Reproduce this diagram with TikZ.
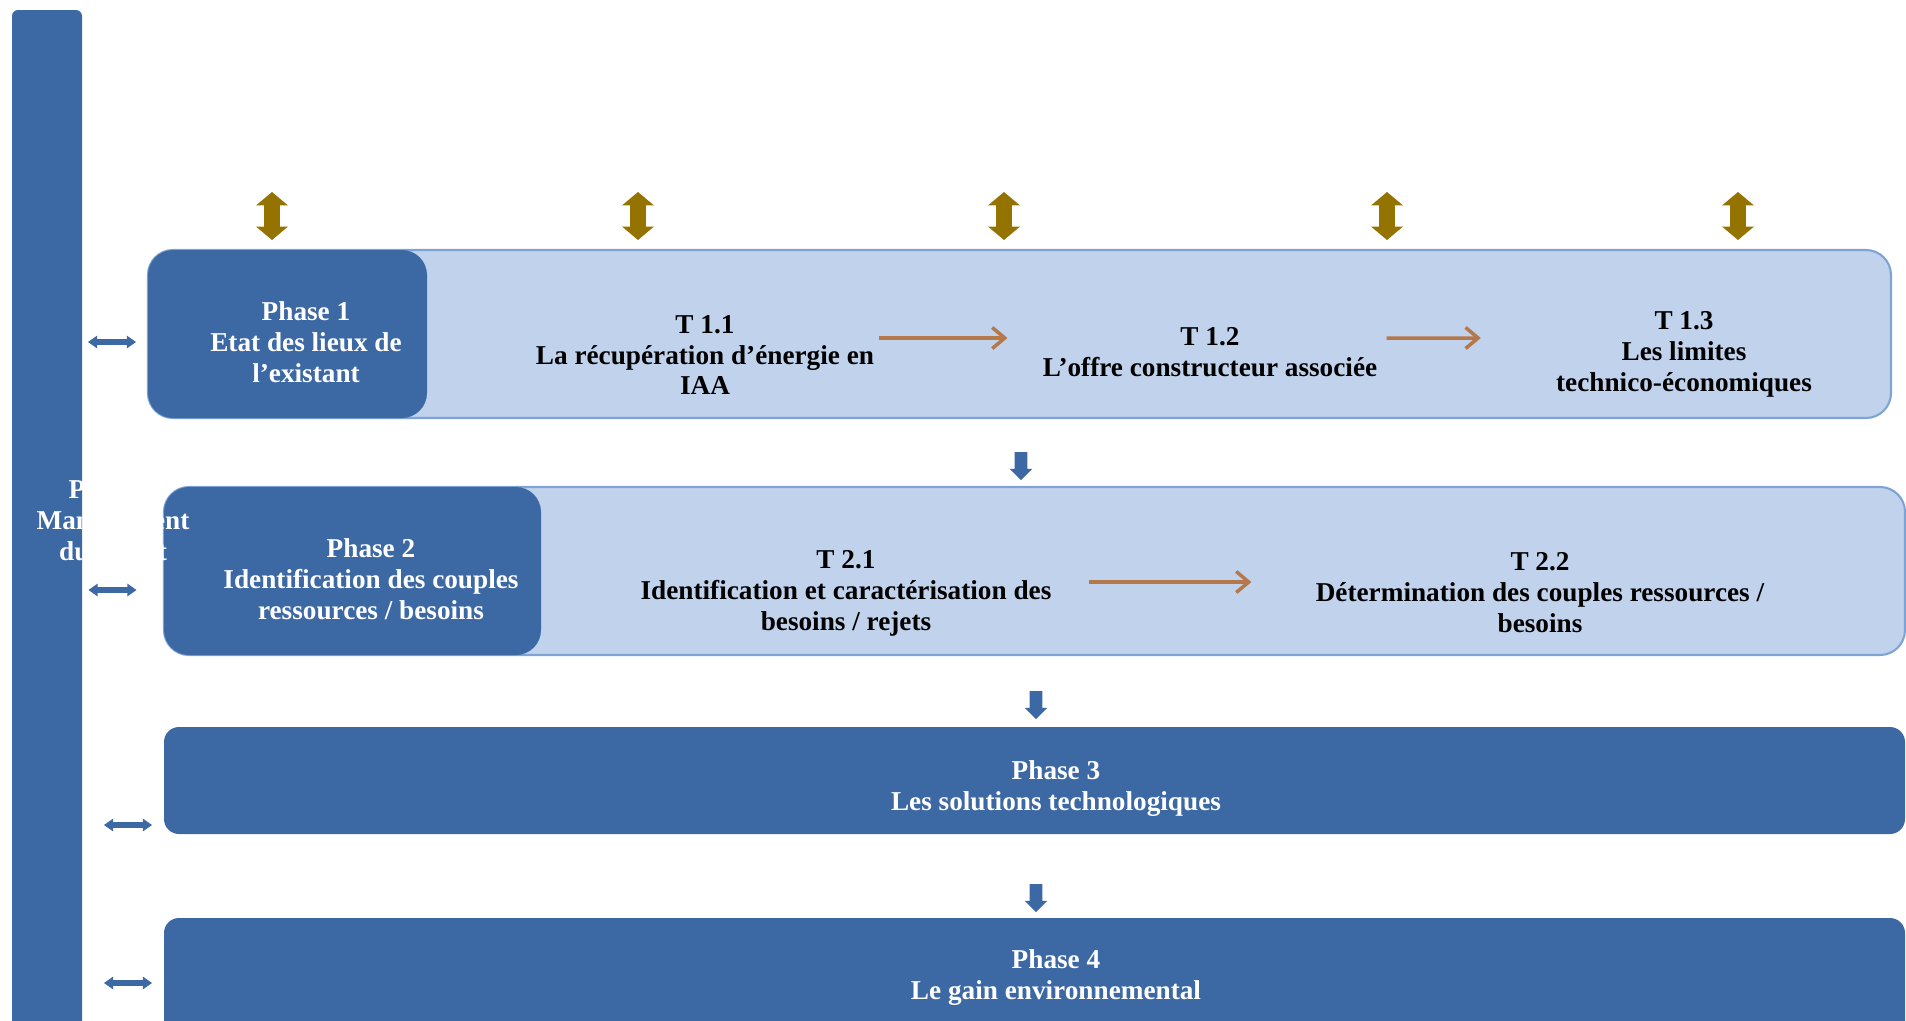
\documentclass[tikz,border=0pt]{standalone}
\usepackage{fontspec}
\setmainfont{Liberation Serif}
\usetikzlibrary{arrows.meta,shapes.arrows}

\definecolor{phaseblue}{HTML}{3C68A4}
\definecolor{taskblue}{HTML}{C1D3EC}
\definecolor{taskline}{HTML}{7FA3D5}
\definecolor{linkgold}{HTML}{957300}
\definecolor{flowbrown}{HTML}{B5784A}

\begin{document}
\begin{tikzpicture}[
    font=\bfseries\fontsize{15.5}{17.6}\selectfont,
    mgmt/.style={
        fill=phaseblue,
        rectangle,
        rounded corners=0.12cm,
        minimum width=1.4cm,
        minimum height=20.7cm,
        inner sep=0
    },
    band/.style={
        draw=taskline,
        fill=taskblue,
        line width=1.2pt,
        rectangle,
        rounded corners=0.5cm,
        minimum height=3.36cm,
        inner sep=0
    },
    phase/.style={
        fill=phaseblue,
        rectangle,
        rounded corners=0.5cm,
        minimum height=3.36cm,
        inner sep=0
    },
    wide/.style={
        fill=phaseblue,
        rectangle,
        rounded corners=0.3cm,
        minimum width=34.82cm,
        inner sep=0
    },
    ptext/.style={
        text=white,
        align=center,
        inner sep=0.1cm
    },
    ttext/.style={
        text=black,
        align=center,
        inner sep=0.1cm
    },
    link/.style={
        double arrow,
        fill=linkgold,
        rotate=90,
        minimum height=0.96cm,
        minimum width=0pt,
        inner xsep=0pt,
        inner ysep=0.15cm,
        double arrow head extend=0.16cm,
        double arrow tip angle=100
    },
    side/.style={
        double arrow,
        fill=phaseblue,
        minimum height=0.96cm,
        minimum width=0pt,
        inner xsep=0pt,
        inner ysep=0.05cm,
        double arrow head extend=0.07cm,
        double arrow tip angle=70
    },
    down/.style={
        single arrow,
        fill=phaseblue,
        rotate=-90,
        minimum height=0.56cm,
        minimum width=0pt,
        inner xsep=0pt,
        inner ysep=0.12cm,
        single arrow head extend=0.1cm
    },
    flow/.style={
        -{Straight Barb[length=0.25cm, width=0.42cm]},
        line width=2pt,
        flowbrown
    }
]

\useasboundingbox (0,0) rectangle (38.12,-20.4);

\node[mgmt] (mgmt) at (0.94,-10.55) {};

\node[band, minimum width=34.86cm] (band1) at (20.39,-6.68) {};
\node[phase, minimum width=5.58cm] (phase1) at (5.75,-6.68) {};

\node[band, minimum width=34.82cm] (band2) at (20.69,-11.42) {};
\node[phase, minimum width=7.54cm] (phase2) at (7.05,-11.42) {};

\node[wide, minimum height=2.14cm] (phase3) at (20.69,-15.61) {};
\node[wide, minimum height=2.44cm] (phase4) at (20.69,-19.58) {};


\node[ptext] (phase1txt) at (6.12,-6.84)
    {Phase 1\\Etat des lieux de\\l’existant};

\node[ttext] (t11) at (14.10,-7.10)
    {T 1.1\\La récupération d’énergie en\\IAA};

\node[ttext] (t12) at (24.20,-7.05)
    {T 1.2\\L’offre constructeur associée};

\node[ttext] (t13) at (33.68,-7.08)
    {T 1.3\\Les limites\\technico-économiques};

\node[ptext] (phase2txt) at (7.42,-11.58)
    {Phase 2\\Identification des couples\\ressources / besoins};

\node[ttext] (t21) at (16.92,-11.86)
    {T 2.1\\Identification et caractérisation des\\besoins / rejets};

\node[ttext] (t22) at (30.80,-11.86)
    {T 2.2\\Détermination des couples ressources /\\besoins};

\node[ptext] (phase3txt) at (21.12,-15.77)
    {Phase 3\\Les solutions technologiques};

\node[ptext] (phase4txt) at (21.12,-19.56)
    {Phase 4\\Le gain environnemental};

\node[ptext] (mgmttxt) at (2.26,-10.46)
    {Phase 5\\Management\\du projet};


\node[link] (link1) at (5.44,-4.32) {};
\node[link] (link2) at (12.76,-4.32) {};
\node[link] (link3) at (20.08,-4.32) {};
\node[link] (link4) at (27.74,-4.32) {};
\node[link] (link5) at (34.76,-4.32) {};

\node[side] (side1) at (2.24,-6.84) {};
\node[side] (side2) at (2.25,-11.80) {};
\node[side] (side3) at (2.56,-16.50) {};
\node[side] (side4) at (2.56,-19.66) {};

\node[down] (down1) at (20.42,-9.26) {};
\node[down] (down2) at (20.72,-14.04) {};
\node[down] (down3) at (20.72,-17.90) {};


\draw[flow, shorten >=0.6cm]
    ([yshift=0.34cm]t11.east) --
    ([yshift=0.29cm]t12.west);

\draw[flow, shorten <=0.08cm, shorten >=1.4cm]
    ([yshift=0.29cm]t12.east) --
    ([yshift=0.32cm]t13.west);

\draw[flow, shorten <=0.64cm, shorten >=1.18cm]
    ([yshift=0.22cm]t21.east) --
    ([yshift=0.22cm]t22.west);

\end{tikzpicture}
\end{document}
